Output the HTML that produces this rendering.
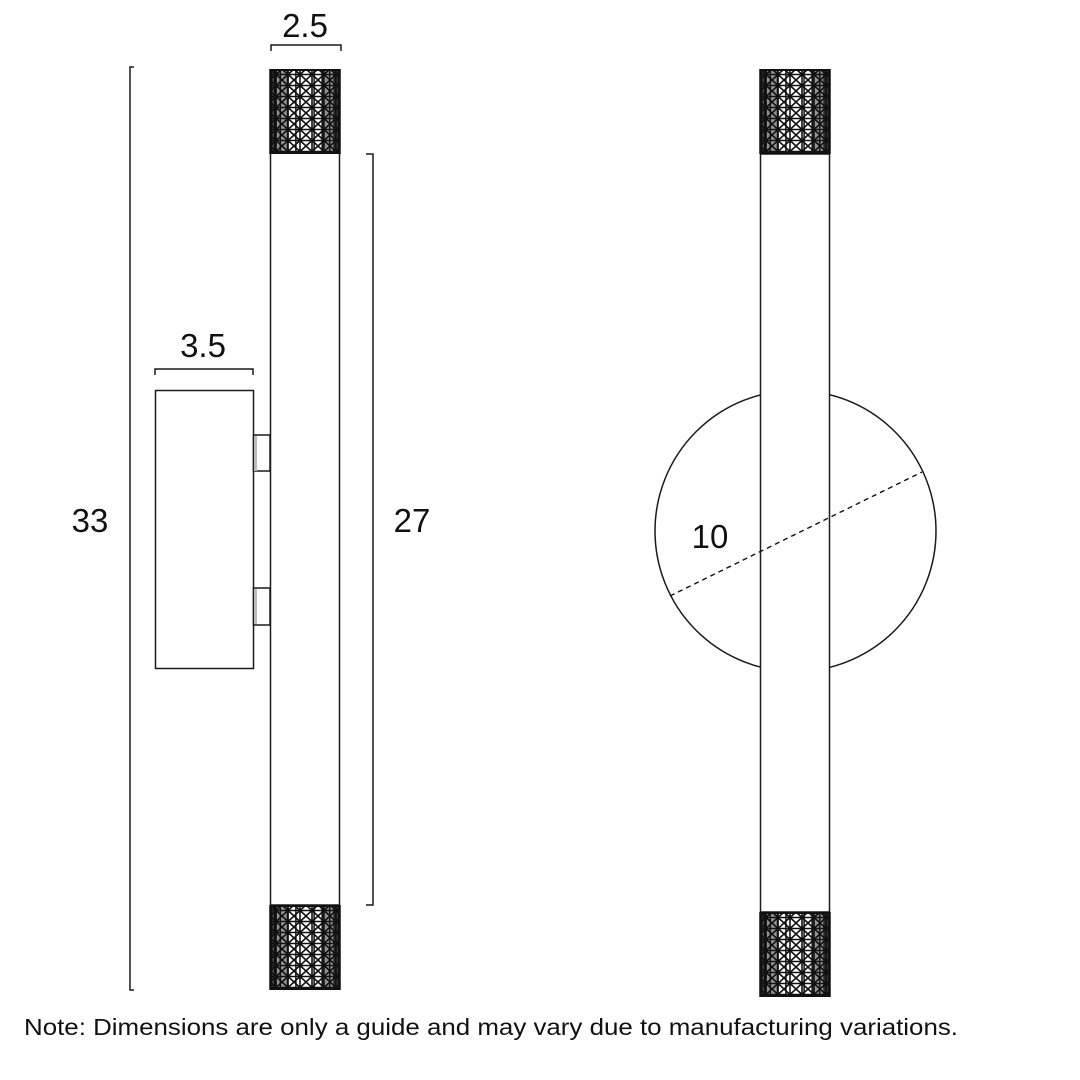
<!DOCTYPE html>
<html><head><meta charset="utf-8"><style>
html,body{margin:0;padding:0;background:#fff;}
svg{display:block;}
text{font-family:"Liberation Sans",sans-serif;fill:#111;}
</style></head><body>
<svg width="1080" height="1080" viewBox="0 0 1080 1080" xmlns="http://www.w3.org/2000/svg">
<defs>
<pattern id="diag" x="0" y="0" width="12" height="11" patternUnits="userSpaceOnUse">
<path d="M0 0 L12 11 M12 0 L0 11 M6 0 V11 M0 5.5 H12" stroke="#111" stroke-width="1.6" fill="none"/>
</pattern>
<g id="knurl">
<rect x="0" y="0" width="70" height="85" fill="url(#diag)"/>
<path d="M0 0V85 M1.5 0V85 M4.7 0V85 M10.3 0V85 M17.5 0V85 M25.9 0V85 M44.1 0V85 M52.5 0V85 M59.7 0V85 M65.3 0V85 M68.5 0V85 M70 0V85" stroke="#111" stroke-width="1.5"/>
<rect x="0" y="0" width="7" height="85" fill="#111" opacity="0.8"/>
<rect x="63" y="0" width="7" height="85" fill="#111" opacity="0.8"/>
<rect x="7" y="0" width="12" height="85" fill="#111" opacity="0.45"/>
<rect x="51" y="0" width="12" height="85" fill="#111" opacity="0.45"/>
<path d="M0 1H70 M0 84H70" stroke="#111" stroke-width="2"/>
</g>
</defs>
<g stroke="#1a1a1a" stroke-width="1.5" fill="none">
<rect x="270.5" y="153" width="69" height="752"/>
<rect x="155.5" y="390.5" width="98" height="278"/>
<rect x="253.5" y="435" width="16.5" height="36"/>
<rect x="253.5" y="588" width="16.5" height="37"/>
<path d="M134 67H130V990H134"/>
<path d="M366 154H373V905H366"/>
<path d="M271 51V45H341V51"/>
<path d="M155 375V369H253V375"/>
<circle cx="795.5" cy="531" r="140.5"/>
</g>
<rect x="760.5" y="154" width="69" height="758" fill="#fff" stroke="#1a1a1a" stroke-width="1.5"/>
<rect x="254" y="436" width="3" height="35" fill="#bbb"/>
<rect x="254" y="589" width="3" height="35" fill="#bbb"/>
<line x1="670" y1="596" x2="922" y2="472" stroke="#111" stroke-width="1.4" stroke-dasharray="5,4"/>
<use href="#knurl" x="270" y="69"/>
<use href="#knurl" x="270" y="905"/>
<use href="#knurl" x="760" y="69"/>
<use href="#knurl" x="760" y="912"/>
<g font-size="33">
<text x="305" y="37" text-anchor="middle">2.5</text>
<text x="203" y="357" text-anchor="middle">3.5</text>
<text x="90" y="532" text-anchor="middle">33</text>
<text x="412" y="532" text-anchor="middle">27</text>
<text x="710" y="548" text-anchor="middle">10</text>
</g>
<text x="24" y="1035" font-size="23" textLength="934" lengthAdjust="spacingAndGlyphs">Note: Dimensions are only a guide and may vary due to manufacturing variations.</text>
</svg>
</body></html>
